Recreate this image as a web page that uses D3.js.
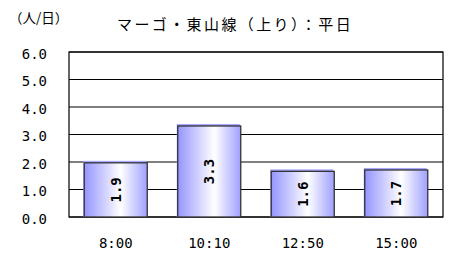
<!DOCTYPE html>
<html>
<head>
<meta charset="utf-8">
<script src="https://cdn.jsdelivr.net/npm/d3@7"></script>
<style>
  body { margin: 0; background: #fff; }
  text { fill: #000; }
  .jp { font-family: "Noto Sans CJK JP", "Noto Sans", sans-serif; }
  .num { font-family: "DejaVu Sans Mono", "Liberation Mono", monospace; }
</style>
</head>
<body>
<script>
// data
const categories = ["8:00", "10:10", "12:50", "15:00"];
const values = [1.97, 3.31, 1.66, 1.71];
const valueLabels = ["1.9", "3.3", "1.6", "1.7"];
const yTicks = [0, 1, 2, 3, 4, 5, 6];

const width = 450, height = 254;
const margin = { top: 52, right: 7, bottom: 37, left: 69 };

const svg = d3.select("body").append("svg")
    .attr("width", width)
    .attr("height", height);

const defs = svg.append("defs");
const grad = defs.append("linearGradient")
    .attr("id", "barGrad")
    .attr("x1", "0%").attr("x2", "100%")
    .attr("y1", "0%").attr("y2", "0%");
grad.append("stop").attr("offset", "0%").attr("stop-color", "#9595ff");
grad.append("stop").attr("offset", "58%").attr("stop-color", "#ffffff");
grad.append("stop").attr("offset", "100%").attr("stop-color", "#a0a0ff");

const x = d3.scaleBand()
    .domain(categories)
    .range([margin.left, width - margin.right])
    .paddingInner(0.326)
    .paddingOuter(0.163);

const y = d3.scaleLinear()
    .domain([0, 6])
    .range([height - margin.bottom, margin.top]);

// gridlines
svg.append("g")
    .selectAll("line")
    .data(yTicks)
    .enter().append("line")
    .attr("x1", margin.left)
    .attr("x2", width - margin.right)
    .attr("y1", function (d) { return y(d); })
    .attr("y2", function (d) { return y(d); })
    .attr("stroke", "#000")
    .attr("stroke-width", 1);

// plot frame
svg.append("rect")
    .attr("x", margin.left)
    .attr("y", margin.top)
    .attr("width", width - margin.left - margin.right)
    .attr("height", y(0) - margin.top)
    .attr("fill", "none")
    .attr("stroke", "#000")
    .attr("stroke-width", 1.2);

// y axis (labels only, the frame carries the line)
const yAxis = svg.append("g")
    .attr("transform", "translate(" + margin.left + ",0)")
    .call(d3.axisLeft(y).tickValues(yTicks).tickSize(0).tickPadding(22)
        .tickFormat(d3.format(".1f")));
yAxis.select(".domain").remove();
yAxis.selectAll("text")
    .attr("class", "num")
    .attr("fill", "#000")
    .style("font-size", "14px")
    .attr("dy", "0.44em");

// x labels
svg.append("g")
    .selectAll("text")
    .data(categories)
    .enter().append("text")
    .attr("class", "num")
    .attr("x", function (d) { return x(d) + x.bandwidth() / 2; })
    .attr("y", 248)
    .attr("text-anchor", "middle")
    .style("font-size", "14px")
    .text(function (d) { return d; });

// bars
const bars = svg.append("g")
    .selectAll("g")
    .data(values)
    .enter().append("g");

bars.append("rect")
    .attr("x", function (d, i) { return x(categories[i]) - 1; })
    .attr("y", function (d) { return y(d) - 2; })
    .attr("width", x.bandwidth())
    .attr("height", function (d) { return y(0) - y(d) + 2; })
    .attr("fill", "#a8a8ff");

bars.append("rect")
    .attr("x", function (d, i) { return x(categories[i]); })
    .attr("y", function (d) { return y(d); })
    .attr("width", x.bandwidth())
    .attr("height", function (d) { return y(0) - y(d); })
    .attr("fill", "url(#barGrad)")
    .attr("stroke", "#333")
    .attr("stroke-width", 1.3);

bars.append("text")
    .attr("class", "num")
    .attr("transform", function (d, i) {
        const cx = x(categories[i]) + x.bandwidth() / 2;
        const cy = (y(d) + y(0)) / 2;
        return "translate(" + cx + "," + cy + ") rotate(-90)";
    })
    .attr("text-anchor", "middle")
    .attr("dy", "0.36em")
    .style("font-size", "14px")
    .style("font-weight", "bold")
    .text(function (d, i) { return valueLabels[i]; });

// titles
svg.append("text")
    .attr("class", "jp")
    .attr("x", 9)
    .attr("y", 23)
    .style("font-size", "13.5px")
    .text("（人/日）");

svg.append("text")
    .attr("class", "jp")
    .attr("x", 117)
    .attr("y", 30)
    .style("font-size", "15px")
    .style("letter-spacing", "2.4px")
    .text("マーゴ・東山線（上り）：平日");
</script>
</body>
</html>
